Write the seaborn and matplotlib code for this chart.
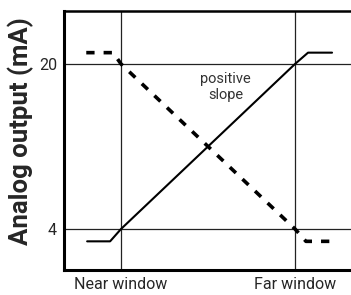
import matplotlib
matplotlib.use("Agg")
import matplotlib.pyplot as plt
import seaborn as sns
import pandas as pd

# Data
tick_positions = [0, 1]
tick_labels = ["Near window", "Far window"]
ytick_values = [4, 20]
ytick_labels = ["4", "20"]

pos_x = [-0.195, -0.063, 0.0, 1.0, 1.075, 1.213]
pos_y = [2.8, 2.8, 4.0, 20.0, 21.1, 21.1]

neg_x = [-0.20, -0.046, 0.0, 1.0, 1.063, 1.207]
neg_y = [21.1, 21.1, 20.0, 4.0, 2.8, 2.8]

annotation_text = "positive\nslope"

sns.set_theme(style="white")
plt.rcParams['font.family'] = ['Roboto', 'DejaVu Sans']

fig = plt.figure(figsize=(3.51, 2.95), dpi=100)
ax = fig.add_axes([64/351, 25/295, 1 - 64/351, (270-11)/295])

df_pos = pd.DataFrame({"x": pos_x, "y": pos_y})
df_neg = pd.DataFrame({"x": neg_x, "y": neg_y})

# reference lines
for v in tick_positions:
    ax.axvline(v, color="#222222", lw=0.9, zorder=1)
for h in ytick_values:
    ax.axhline(h, color="#222222", lw=0.9, zorder=1)

sns.lineplot(data=df_pos, x="x", y="y", ax=ax, color="black", lw=1.5,
             sort=False, estimator=None, zorder=3)
sns.lineplot(data=df_neg, x="x", y="y", ax=ax, color="black", lw=2.6,
             sort=False, estimator=None, zorder=3,
             linestyle=(0, (2.3, 2.5)))

ax.text(0.6, 17.8, annotation_text, ha="center", va="center",
        fontsize=10.5, color="#333333", linespacing=1.2)

ax.set_xlim(-0.328, 1.322)
ax.set_ylim(0.02, 25.14)
ax.set_xticks(tick_positions)
ax.set_xticklabels(tick_labels, fontsize=11.5)
ax.set_yticks(ytick_values)
ax.set_yticklabels(ytick_labels, fontsize=11.5)
ax.tick_params(length=0, pad=5)
ax.set_xlabel("")
ax.set_ylabel("Analog output (mA)", fontsize=18.5, fontweight="bold")
ax.yaxis.set_label_coords(-0.105, 0.535)

for s in ["left", "bottom"]:
    ax.spines[s].set_linewidth(2.2)
    ax.spines[s].set_color("black")
ax.spines["top"].set_linewidth(1.8)
ax.spines["top"].set_color("black")
ax.spines["right"].set_visible(False)

fig.savefig("out.png", dpi=100)
